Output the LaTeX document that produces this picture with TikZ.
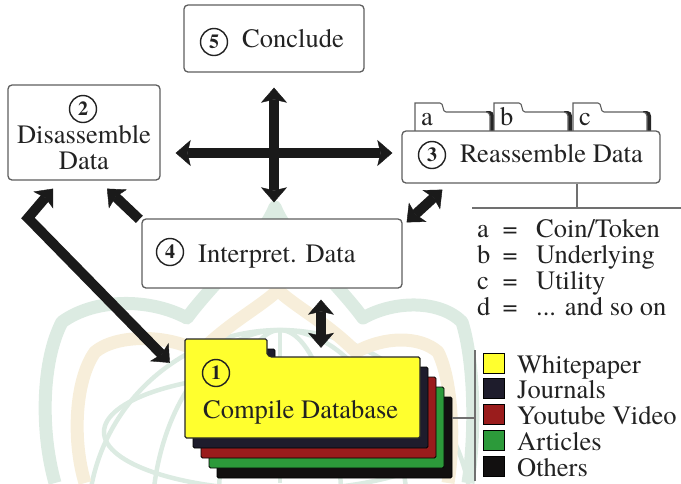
\documentclass[tikz,border=0pt]{standalone}
\usepackage{fontspec}
\setmainfont{TeX Gyre Termes}
\usetikzlibrary{arrows.meta,calc}

\definecolor{ink}{HTML}{222222}
\definecolor{frame}{HTML}{5E5E5E}
\definecolor{rulegray}{HTML}{707070}
\definecolor{arrowblack}{HTML}{1A1A1A}
\definecolor{paperyellow}{HTML}{FFFF2E}
\definecolor{journalnavy}{HTML}{1E1C2C}
\definecolor{videored}{HTML}{9A1C1C}
\definecolor{articlegreen}{HTML}{2C9A3A}
\definecolor{otherblack}{HTML}{121010}
\definecolor{wmgreen}{HTML}{DCEBE2}
\definecolor{wmbeige}{HTML}{F7EEDA}

\tikzset{
  box/.style={draw=frame, line width=1.3pt, rounded corners=4pt, fill=white, inner sep=0pt},
  txt/.style={inner sep=0pt, text=ink, font=\fontsize{26.5}{26.5}\selectfont},
  cnum/.style={circle, draw=ink, line width=1.4pt, minimum size=27pt, inner sep=0pt,
               text=ink, font=\bfseries\fontsize{20}{20}\selectfont},
  head/.tip={Stealth[length=15pt,width=26pt,inset=3pt,line width=0.4pt]},
  bigarrow/.style={line width=10pt, draw=arrowblack, -head},
  twoway/.style={line width=10pt, draw=arrowblack, head-head},
  rule/.style={draw=rulegray, line width=1.1pt},
  tab/.style={draw=frame, line width=1.1pt, fill=white},
  swatch/.style={draw=black, line width=1pt, minimum width=21pt, minimum height=20pt,
                 inner sep=0pt, anchor=south west},
  crownband/.style={line width=13pt, line join=round},
  globeline/.style={draw=wmgreen, line width=4.5pt},
}

% outline of one sheet of the source stack
\newcommand\sheetpath{(185,339) -- (267,339) -- (267,352) to[out=-90,in=180] (273,357)
  -- (420,357) -- (420,438) -- (185,438) -- cycle}

% file tab sitting on top of the reassemble box
\newcommand\foldertab[3]{%
  \fill[black!85] (#2-4,111) -- (#2,111) to[out=0,in=90] (#2+4,116) -- (#2+4,131) -- (#2,131) -- cycle;
  \draw[tab] (#1,131) -- (#1,103) -- (#1+25,103) to[out=0,in=180] (#1+31,112)
    -- (#2-4,112) to[out=0,in=90] (#2,116) -- (#2,131);
  \node[txt, anchor=base west] (tab#3) at (#1+6,125) {#3};
}

% one line of the tab key
\newcommand\keyline[3]{%
  \node[txt, anchor=base west] (key#1) at (477,#3) {#1};
  \node[txt, anchor=base] (eq#1) at (510,#3) {=};
  \node[txt, anchor=base west] (def#1) at (536,#3) {#2};
}

\begin{document}
\begin{tikzpicture}[x=1pt,y=-1pt]
\useasboundingbox (0,0) rectangle (681,483);

% ---- faint crown-and-globe emblem in the background
\begin{scope}
  \clip (0,0) rectangle (681,483);
  % globe
  \draw[globeline] (280,522) circle[radius=192];
  \draw[globeline] (280,522) ellipse[x radius=62, y radius=192];
  \draw[globeline] (280,522) ellipse[x radius=128, y radius=192];
  \draw[globeline] (280,330) -- (280,483);
  \draw[globeline] (280,432) ellipse[x radius=176, y radius=58];
  % inner beige crown
  \draw[crownband, draw=wmbeige]
    (85,483) .. controls (72,440) and (75,380) .. (95,352)
    .. controls (115,335) and (165,333) .. (200,352)
    .. controls (230,322) and (262,306) .. (278,290)
    .. controls (294,306) and (326,322) .. (356,352)
    .. controls (385,336) and (420,336) .. (438,352)
    .. controls (452,380) and (455,440) .. (448,483);
  % outer green crown
  \draw[crownband, draw=wmgreen]
    (55,483) .. controls (40,430) and (42,360) .. (62,322)
    .. controls (95,298) and (150,298) .. (187,318)
    .. controls (215,280) and (262,240) .. (275,207)
    .. controls (288,240) and (335,280) .. (363,318)
    .. controls (395,300) and (440,300) .. (462,322)
    .. controls (474,360) and (476,430) .. (468,483);
\end{scope}

% ---- step 5
\node[box, minimum width=180pt, minimum height=67pt] (conclude) at (274,38.5) {};
\node[cnum] (c5) at (214,42) {5};
\node[txt, anchor=base west] (t5) at (242,47) {Conclude};

% ---- step 2
\node[box, minimum width=152pt, minimum height=95pt] (disassemble) at (84,132.5) {};
\node[cnum] (c2) at (83,109) {2};
\node[txt, anchor=base] (t2a) at (84,143) {Disassemble};
\node[txt, anchor=base] (t2b) at (84,169) {Data};

% ---- step 3 with its tabs
\foldertab{415}{490}{a}
\foldertab{494}{568}{b}
\foldertab{573}{647}{c}
\node[box, minimum width=258pt, minimum height=52pt] (reassemble) at (531,157) {};
\node[cnum] (c3) at (432,155) {3};
\node[txt, anchor=base west] (t3) at (460,162) {Reassemble Data};

% ---- step 4
\node[box, minimum width=260pt, minimum height=69pt] (interpret) at (272,253.5) {};
\node[cnum] (c4) at (170,252) {4};
\node[txt, anchor=base west] (t4) at (198,262) {Interpret. Data};

% ---- step 1: stack of sources
\foreach \dx/\dy/\col in {32/40/otherblack, 24/30/articlegreen, 16/20/videored, 8/10/journalnavy}
  \draw[black, line width=0.8pt, fill=\col, rounded corners=1.5pt, shift={(\dx,\dy)}] \sheetpath;
\draw[black!85, line width=1.2pt, fill=paperyellow, rounded corners=1.5pt] \sheetpath;
\node[inner sep=0pt, minimum width=235pt, minimum height=81pt] (compile) at (302.5,397.5) {};
\node[cnum] (c1) at (216,373) {1};
\node[txt, anchor=base west] (t1) at (203,418) {Compile Database};

% ---- tab key
\coordinate (keyjoin) at (577,208);
\draw[rule] ([xshift=46pt]reassemble.south) -- (keyjoin);
\draw[rule] (472,208) -- (681,208);
\keyline{a}{Coin/Token}{237}
\keyline{b}{Underlying}{263}
\keyline{c}{Utility}{289}
\keyline{d}{... and so on}{315}

% ---- source key
\coordinate (srctop) at (475,350);
\coordinate (srcbottom) at (475,481);
\draw[rule] (srctop) -- (srcbottom);
\draw[rule] ([shift={(32,20.5)}]compile.east) -- (srctop |- 0,418);
\foreach \n/\col/\name/\bl in {1/paperyellow/Whitepaper/373, 2/journalnavy/Journals/398,
    3/videored/Youtube Video/424, 4/articlegreen/Articles/450, 5/otherblack/Others/476}{
  \node[swatch, fill=\col] (sw\n) at (483,\bl+1) {};
  \node[txt, anchor=base west] (src\n) at (517,\bl) {\name};
}

% ---- connectors
\draw[twoway] ($(conclude.south)+(0,15)$) -- ($(interpret.north)+(2,-16)$);
\draw[twoway] ($(disassemble.east)+(15,20.5)$) -- ($(reassemble.west)+(-9,-4)$);
\draw[bigarrow] ($(interpret.north west)+(-2,1)$) -- ($(disassemble.south)+(23,8)$);
\draw[twoway] ($(interpret.north east)+(4,4)$) -- ($(reassemble.south west)+(41,6)$);
\draw[twoway] ($(interpret.south)+(49,11)$) -- ($(compile.north)+(18.5,-9)$);
\coordinate (bend) at (28,218);
\draw[twoway, line join=miter] ($(compile.north west)+(-15,6)$) -- (bend) -- ($(disassemble.south)+(-31,8)$);
\end{tikzpicture}
\end{document}
